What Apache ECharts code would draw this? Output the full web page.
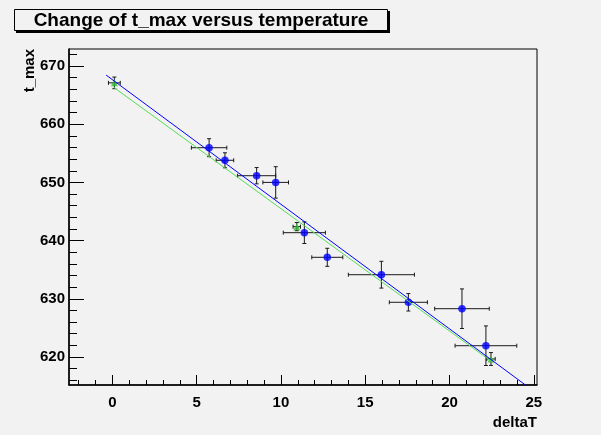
<!DOCTYPE html>
<html>
<head>
<meta charset="utf-8">
<script src="https://cdn.jsdelivr.net/npm/echarts@6/dist/echarts.min.js"></script>
<style>
html,body{margin:0;padding:0;background:#f2f2f2;}
#chart{width:601px;height:435px;}
</style>
</head>
<body>
<div id="chart"></div>
<script>
// ---- data ----
var titleText = 'Change of t_max versus temperature';
var xName = 'deltaT';
var yName = 't_max';

var blueX  = [5.74, 6.68, 8.56, 9.69, 11.39, 12.75, 15.96, 17.56, 20.74, 22.16];
var blueY  = [655.96, 653.8, 651.15, 650.0, 641.36, 637.13, 634.14, 629.4, 628.3, 621.94];
var blueEX = [1.05, 0.52, 1.13, 0.76, 1.25, 0.92, 1.96, 1.13, 1.62, 1.83];
var blueEY = [1.55, 1.29, 1.4, 2.7, 1.86, 1.55, 2.3, 1.5, 3.4, 3.4];

var greenX  = [0.12, 10.94, 22.46];
var greenY  = [667.1, 642.4, 619.66];
var greenEX = [0.35, 0.22, 0.25];
var greenEY = [1.0, 0.7, 1.1];

// fit lines (end points)
var blueFitX  = [-0.37, 24.5];
var blueFitY  = [668.45, 615.2];
var greenFitX = [0.1, 22.6];
var greenFitY = [666.3, 619.0];

var xMajor = [0, 5, 10, 15, 20, 25];
var xMinor = [-2, -1, 1, 2, 3, 4, 6, 7, 8, 9, 11, 12, 13, 14, 16, 17, 18, 19, 21, 22, 23, 24];
var yMajor = [620, 630, 640, 650, 660, 670];
var yMinor = [616, 618, 622, 624, 626, 628, 632, 634, 636, 638, 642, 644, 646, 648, 652, 654, 656, 658, 662, 664, 666, 668, 672];

var xRange = [-2.57, 25.19];
var yRange = [615.19, 672.92];

// ---- build ----
function zip4(a, b, c, d) { return a.map(function (v, i) { return [v, b[i], c[i], d[i]]; }); }
function zip2(a, b) { return a.map(function (v, i) { return [v, b[i]]; }); }

function errRender(params, api) {
  var x = api.value(0), y = api.value(1), ex = api.value(2), ey = api.value(3);
  var l = api.coord([x - ex, y]), r = api.coord([x + ex, y]);
  var t = api.coord([x, y + ey]), b = api.coord([x, y - ey]);
  var c = 2;
  var st = { stroke: '#1a1a1a', lineWidth: 1 };
  function ln(x1, y1, x2, y2) { return { type: 'line', shape: { x1: x1, y1: y1, x2: x2, y2: y2 }, style: st }; }
  return {
    type: 'group',
    children: [
      ln(l[0], l[1], r[0], r[1]),
      ln(t[0], t[1], b[0], b[1]),
      ln(l[0], l[1] - c, l[0], l[1] + c),
      ln(r[0], r[1] - c, r[0], r[1] + c),
      ln(t[0] - c, t[1], t[0] + c, t[1]),
      ln(b[0] - c, b[1], b[0] + c, b[1])
    ]
  };
}

var FONT = '"Liberation Sans", Arial, Helvetica, sans-serif';

var chart = echarts.init(document.getElementById('chart'), null, { renderer: 'canvas' });

var labelStyle = { color: '#000', fontWeight: 'bold', fontSize: 15, fontFamily: FONT };

chart.setOption({
  animation: false,
  backgroundColor: '#f2f2f2',
  grid: { left: 69, top: 49, right: 64, bottom: 50, show: true, borderColor: '#000', borderWidth: 1, backgroundColor: 'transparent' },
  xAxis: [
    {
      type: 'value', min: xRange[0], max: xRange[1], position: 'bottom',
      axisLine: { show: true, onZero: false, lineStyle: { color: '#000', width: 1.5 } },
      axisTick: { show: true, inside: true, length: 10, customValues: xMajor, lineStyle: { color: '#000', width: 1 } },
      axisLabel: Object.assign({ customValues: xMajor, margin: 10 }, labelStyle),
      splitLine: { show: false }
    },
    {
      type: 'value', min: xRange[0], max: xRange[1], position: 'bottom',
      axisLine: { show: false, onZero: false },
      axisTick: { show: true, inside: true, length: 5, customValues: xMinor, lineStyle: { color: '#000', width: 1 } },
      axisLabel: { show: false },
      splitLine: { show: false }
    }
  ],
  yAxis: [
    {
      type: 'value', min: yRange[0], max: yRange[1], position: 'left',
      axisLine: { show: true, onZero: false, lineStyle: { color: '#000', width: 1.5 } },
      axisTick: { show: true, inside: true, length: 15, customValues: yMajor, lineStyle: { color: '#000', width: 1 } },
      axisLabel: Object.assign({ customValues: yMajor, margin: 4 }, labelStyle),
      splitLine: { show: false }
    },
    {
      type: 'value', min: yRange[0], max: yRange[1], position: 'left',
      axisLine: { show: false, onZero: false },
      axisTick: { show: true, inside: true, length: 8, customValues: yMinor, lineStyle: { color: '#000', width: 1 } },
      axisLabel: { show: false },
      splitLine: { show: false }
    }
  ],
  graphic: [
    { type: 'rect', shape: { x: 16, y: 11, width: 374, height: 22 }, style: { fill: '#000' }, z: 10 },
    { type: 'rect', shape: { x: 14.5, y: 9.5, width: 373, height: 21 }, style: { fill: '#f2f2f2', stroke: '#000', lineWidth: 1 }, z: 11 },
    { type: 'text', x: 201, y: 20.5, z: 12, style: { text: titleText, align: 'center', verticalAlign: 'middle', fill: '#000', font: 'bold 19px ' + FONT } },
    { type: 'text', x: 30, y: 49, rotation: Math.PI / 2, z: 12, style: { text: yName, align: 'right', verticalAlign: 'middle', fill: '#000', font: 'bold 15px ' + FONT } },
    { type: 'text', x: 537, y: 423, z: 12, style: { text: xName, align: 'right', verticalAlign: 'middle', fill: '#000', font: 'bold 15px ' + FONT } }
  ],
  series: [
    {
      type: 'custom', renderItem: errRender, xAxisIndex: 0, yAxisIndex: 0,
      encode: { x: 0, y: 1 }, data: zip4(blueX, blueY, blueEX, blueEY), z: 2, silent: true
    },
    {
      type: 'custom', renderItem: errRender, xAxisIndex: 0, yAxisIndex: 0,
      encode: { x: 0, y: 1 }, data: zip4(greenX, greenY, greenEX, greenEY), z: 2, silent: true
    },
    {
      type: 'scatter', data: zip2(blueX, blueY), symbol: 'circle', symbolSize: 7.5,
      itemStyle: { color: '#0000ff' }, z: 3
    },
    {
      type: 'scatter', data: zip2(greenX, greenY), symbol: 'triangle', symbolSize: 7,
      itemStyle: { color: '#33bb33' }, z: 3
    },
    {
      type: 'line', data: zip2(greenFitX, greenFitY), showSymbol: false, symbol: 'none',
      lineStyle: { color: '#55dd55', width: 1 }, z: 4
    },
    {
      type: 'line', data: zip2(blueFitX, blueFitY), showSymbol: false, symbol: 'none',
      lineStyle: { color: '#0000ff', width: 1 }, z: 5
    }
  ]
});
</script>
</body>
</html>
